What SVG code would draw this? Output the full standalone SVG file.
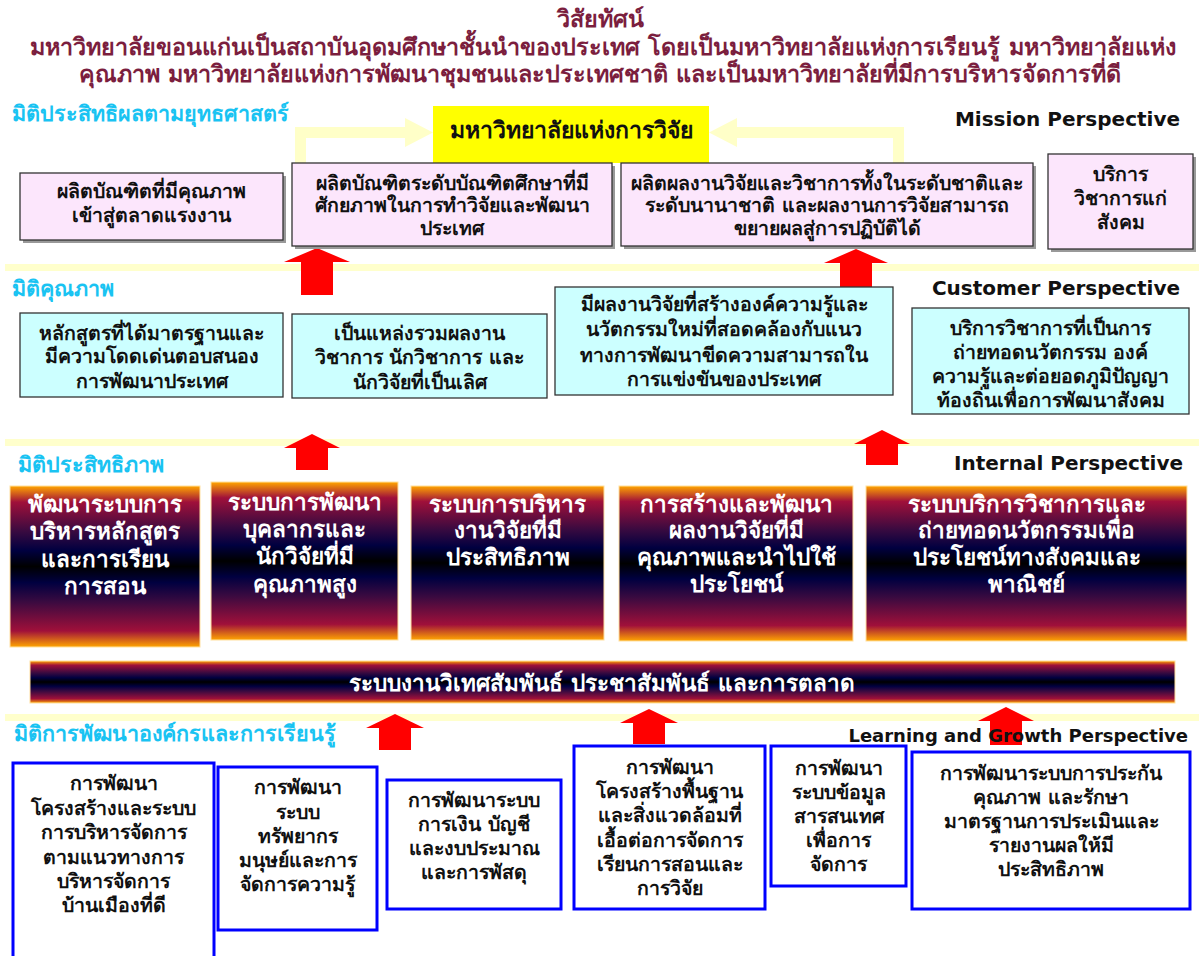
<svg xmlns="http://www.w3.org/2000/svg" width="1199" height="956" viewBox="0 0 1199 956">
<defs>
<linearGradient id="g3d" x1="0" y1="0" x2="0" y2="1">
<stop offset="0" stop-color="#FFA500"/>
<stop offset="0.1" stop-color="#A0103A"/>
<stop offset="0.28" stop-color="#3A0A40"/>
<stop offset="0.4" stop-color="#000040"/>
<stop offset="0.5" stop-color="#000000"/>
<stop offset="0.6" stop-color="#000040"/>
<stop offset="0.72" stop-color="#3A0A40"/>
<stop offset="0.9" stop-color="#A0103A"/>
<stop offset="1" stop-color="#FFA500"/>
</linearGradient>
<style>
text{font-family:Tahoma,"DejaVu Sans","Noto Sans",sans-serif;font-weight:bold}
.title{fill:#7B1E3E;font-size:23.3px;text-anchor:middle}
.dim{fill:#19C3F2;font-size:21.5px}
.persp{fill:#111;font-size:20px;text-anchor:end}
.bt{fill:#111;font-size:19.5px;text-anchor:middle}
.wt{fill:#fff;font-size:22.5px;text-anchor:middle}
.pink{fill:#FCE6FC;stroke:#333;stroke-width:1.3}
.cyan{fill:#CCFFFF;stroke:#333;stroke-width:1.3}
.shadow{fill:#999}
.grad{fill:url(#g3d);stroke:#FFE0A0;stroke-width:1}
.blue{fill:#fff;stroke:#0000FF;stroke-width:3}
.sep{fill:#FFFFCC}
.red{fill:#FF0000}
.yarrow{fill:#FFFFC8}
</style>
</defs>
<rect width="1199" height="956" fill="#fff"/>

<g id="title">
<text class="title" x="600" y="27">วิสัยทัศน์</text>
<text class="title" x="603" y="55">มหาวิทยาลัยขอนแก่นเป็นสถาบันอุดมศึกษาชั้นนำของประเทศ โดยเป็นมหาวิทยาลัยแห่งการเรียนรู้ มหาวิทยาลัยแห่ง</text>
<text class="title" x="600" y="82">คุณภาพ มหาวิทยาลัยแห่งการพัฒนาชุมชนและประเทศชาติ และเป็นมหาวิทยาลัยที่มีการบริหารจัดการที่ดี</text>
</g>

<g id="separators">
<rect class="sep" x="5" y="264" width="1194" height="7"/>
<rect class="sep" x="5" y="439" width="1194" height="7"/>
<rect class="sep" x="5" y="714" width="1194" height="7"/>
</g>

<g id="labels">
<text class="dim" x="12" y="121">มิติประสิทธิผลตามยุทธศาสตร์</text>
<text class="persp" x="1180" y="126">Mission Perspective</text>
<text class="dim" x="12" y="296">มิติคุณภาพ</text>
<text class="persp" x="1180" y="295">Customer Perspective</text>
<text class="dim" x="18" y="472">มิติประสิทธิภาพ</text>
<text class="dim" x="14" y="741">มิติการพัฒนาองค์กรและการเรียนรู้</text>
</g>

<g id="connectors">
<polygon class="yarrow" points="295,163 295,127 405,127 405,118 433,132.5 405,147 405,138 306,138 306,163"/>
<polygon class="yarrow" points="904,163 904,127 737,127 737,118 709,132.5 737,147 737,138 893,138 893,163"/>
<polygon class="red" points="317,248 350,262 333,262 333,295 301,295 301,262 284,262"/>
<polygon class="red" points="856,249 888,263 872,263 872,290 840,290 840,263 824,263"/>
<polygon class="red" points="312,434 340,448 328,448 328,470 296,470 296,448 284,448"/>
<polygon class="red" points="882,430 910,444 898,444 898,465 866,465 866,444 854,444"/>
<polygon class="red" points="395,714 424,728 411,728 411,750 379,750 379,728 366,728"/>
<polygon class="red" points="649,709 678,723 665,723 665,744 633,744 633,723 620,723"/>
<polygon class="red" points="1006,707 1034,721 1022,721 1022,745 990,745 990,721 978,721"/>
</g>

<text class="persp" x="1183" y="470">Internal Perspective</text>
<text class="persp" x="1188" y="742" style="font-size:18px">Learning and Growth Perspective</text>

<g id="n-yellow">
<rect x="433" y="106" width="276" height="57" fill="#FFFF00"/>
<text class="bt" x="571" y="138" style="font-size:23px">มหาวิทยาลัยแห่งการวิจัย</text>
</g>

<g id="n-m1">
<rect class="shadow" x="23" y="176" width="263" height="67"/>
<rect class="pink" x="20" y="173" width="263" height="67"/>
<text class="bt" x="151.5" y="198">ผลิตบัณฑิตที่มีคุณภาพ</text>
<text class="bt" x="151.5" y="222">เข้าสู่ตลาดแรงงาน</text>
</g>
<g id="n-m2">
<rect class="shadow" x="295" y="166" width="320" height="83"/>
<rect class="pink" x="292" y="163" width="320" height="83"/>
<text class="bt" x="452" y="190">ผลิตบัณฑิตระดับบัณฑิตศึกษาที่มี</text>
<text class="bt" x="452" y="212">ศักยภาพในการทำวิจัยและพัฒนา</text>
<text class="bt" x="452" y="235">ประเทศ</text>
</g>
<g id="n-m3">
<rect class="shadow" x="624" y="166" width="412" height="83"/>
<rect class="pink" x="621" y="163" width="412" height="83"/>
<text class="bt" x="827" y="190">ผลิตผลงานวิจัยและวิชาการทั้งในระดับชาติและ</text>
<text class="bt" x="827" y="212">ระดับนานาชาติ และผลงานการวิจัยสามารถ</text>
<text class="bt" x="827" y="235">ขยายผลสู่การปฏิบัติได้</text>
</g>
<g id="n-m4">
<rect class="shadow" x="1051" y="157" width="145" height="95"/>
<rect class="pink" x="1048" y="154" width="145" height="95"/>
<text class="bt" x="1120.5" y="181">บริการ</text>
<text class="bt" x="1120.5" y="205">วิชาการแก่</text>
<text class="bt" x="1120.5" y="229">สังคม</text>
</g>

<g id="n-c1">
<rect class="cyan" x="20" y="313" width="263" height="84"/>
<text class="bt" x="151.5" y="340">หลักสูตรที่ได้มาตรฐานและ</text>
<text class="bt" x="151.5" y="363">มีความโดดเด่นตอบสนอง</text>
<text class="bt" x="151.5" y="388">การพัฒนาประเทศ</text>
</g>
<g id="n-c2">
<rect class="cyan" x="292" y="314" width="255" height="84"/>
<text class="bt" x="419.5" y="340">เป็นแหล่งรวมผลงาน</text>
<text class="bt" x="419.5" y="364">วิชาการ นักวิชาการ และ</text>
<text class="bt" x="419.5" y="389">นักวิจัยที่เป็นเลิศ</text>
</g>
<g id="n-c3">
<rect class="cyan" x="555" y="287" width="338" height="108"/>
<text class="bt" x="724" y="311">มีผลงานวิจัยที่สร้างองค์ความรู้และ</text>
<text class="bt" x="724" y="336">นวัตกรรมใหม่ที่สอดคล้องกับแนว</text>
<text class="bt" x="724" y="362">ทางการพัฒนาขีดความสามารถใน</text>
<text class="bt" x="724" y="386">การแข่งขันของประเทศ</text>
</g>
<g id="n-c4">
<rect class="cyan" x="912" y="308" width="277" height="106"/>
<text class="bt" x="1050.5" y="335">บริการวิชาการที่เป็นการ</text>
<text class="bt" x="1050.5" y="359">ถ่ายทอดนวัตกรรม องค์</text>
<text class="bt" x="1050.5" y="383">ความรู้และต่อยอดภูมิปัญญา</text>
<text class="bt" x="1050.5" y="407">ท้องถิ่นเพื่อการพัฒนาสังคม</text>
</g>

<g id="n-i1">
<rect class="grad" x="10" y="486" width="190" height="161"/>
<text class="wt" x="105" y="512">พัฒนาระบบการ</text>
<text class="wt" x="105" y="539">บริหารหลักสูตร</text>
<text class="wt" x="105" y="567">และการเรียน</text>
<text class="wt" x="105" y="594">การสอน</text>
</g>
<g id="n-i2">
<rect class="grad" x="211" y="482" width="187" height="158"/>
<text class="wt" x="304.5" y="510">ระบบการพัฒนา</text>
<text class="wt" x="304.5" y="537">บุคลากรและ</text>
<text class="wt" x="304.5" y="564">นักวิจัยที่มี</text>
<text class="wt" x="304.5" y="592">คุณภาพสูง</text>
</g>
<g id="n-i3">
<rect class="grad" x="411" y="486" width="193" height="154"/>
<text class="wt" x="507.5" y="512">ระบบการบริหาร</text>
<text class="wt" x="507.5" y="538">งานวิจัยที่มี</text>
<text class="wt" x="507.5" y="565">ประสิทธิภาพ</text>
</g>
<g id="n-i4">
<rect class="grad" x="619" y="486" width="234" height="155"/>
<text class="wt" x="736" y="512">การสร้างและพัฒนา</text>
<text class="wt" x="736" y="538">ผลงานวิจัยที่มี</text>
<text class="wt" x="736" y="565">คุณภาพและนำไปใช้</text>
<text class="wt" x="736" y="592">ประโยชน์</text>
</g>
<g id="n-i5">
<rect class="grad" x="866" y="486" width="321" height="155"/>
<text class="wt" x="1026.5" y="512">ระบบบริการวิชาการและ</text>
<text class="wt" x="1026.5" y="538">ถ่ายทอดนวัตกรรมเพื่อ</text>
<text class="wt" x="1026.5" y="565">ประโยชน์ทางสังคมและ</text>
<text class="wt" x="1026.5" y="592">พาณิชย์</text>
</g>
<g id="n-bar">
<rect class="grad" x="30" y="661" width="1145" height="42"/>
<text class="wt" x="602" y="691">ระบบงานวิเทศสัมพันธ์ ประชาสัมพันธ์ และการตลาด</text>
</g>

<g id="n-l1">
<rect class="blue" x="13" y="763" width="201" height="200"/>
<text class="bt" x="113.5" y="790">การพัฒนา</text>
<text class="bt" x="113.5" y="815">โครงสร้างและระบบ</text>
<text class="bt" x="113.5" y="839">การบริหารจัดการ</text>
<text class="bt" x="113.5" y="864">ตามแนวทางการ</text>
<text class="bt" x="113.5" y="888">บริหารจัดการ</text>
<text class="bt" x="113.5" y="912">บ้านเมืองที่ดี</text>
</g>
<g id="n-l2">
<rect class="blue" x="218" y="767" width="159" height="163"/>
<text class="bt" x="297.5" y="794">การพัฒนา</text>
<text class="bt" x="297.5" y="819">ระบบ</text>
<text class="bt" x="297.5" y="843">ทรัพยากร</text>
<text class="bt" x="297.5" y="867">มนุษย์และการ</text>
<text class="bt" x="297.5" y="891">จัดการความรู้</text>
</g>
<g id="n-l3">
<rect class="blue" x="387" y="780" width="174" height="129"/>
<text class="bt" x="474" y="807">การพัฒนาระบบ</text>
<text class="bt" x="474" y="831">การเงิน บัญชี</text>
<text class="bt" x="474" y="855">และงบประมาณ</text>
<text class="bt" x="474" y="879">และการพัสดุ</text>
</g>
<g id="n-l4">
<rect class="blue" x="574" y="746" width="191" height="163"/>
<text class="bt" x="669.5" y="774">การพัฒนา</text>
<text class="bt" x="669.5" y="798">โครงสร้างพื้นฐาน</text>
<text class="bt" x="669.5" y="822">และสิ่งแวดล้อมที่</text>
<text class="bt" x="669.5" y="847">เอื้อต่อการจัดการ</text>
<text class="bt" x="669.5" y="871">เรียนการสอนและ</text>
<text class="bt" x="669.5" y="895">การวิจัย</text>
</g>
<g id="n-l5">
<rect class="blue" x="771" y="746" width="135" height="140"/>
<text class="bt" x="838.5" y="775">การพัฒนา</text>
<text class="bt" x="838.5" y="799">ระบบข้อมูล</text>
<text class="bt" x="838.5" y="823">สารสนเทศ</text>
<text class="bt" x="838.5" y="847">เพื่อการ</text>
<text class="bt" x="838.5" y="871">จัดการ</text>
</g>
<g id="n-l6">
<rect class="blue" x="912" y="752" width="278" height="157"/>
<text class="bt" x="1051" y="780">การพัฒนาระบบการประกัน</text>
<text class="bt" x="1051" y="804">คุณภาพ และรักษา</text>
<text class="bt" x="1051" y="828">มาตรฐานการประเมินและ</text>
<text class="bt" x="1051" y="852">รายงานผลให้มี</text>
<text class="bt" x="1051" y="876">ประสิทธิภาพ</text>
</g>
</svg>
